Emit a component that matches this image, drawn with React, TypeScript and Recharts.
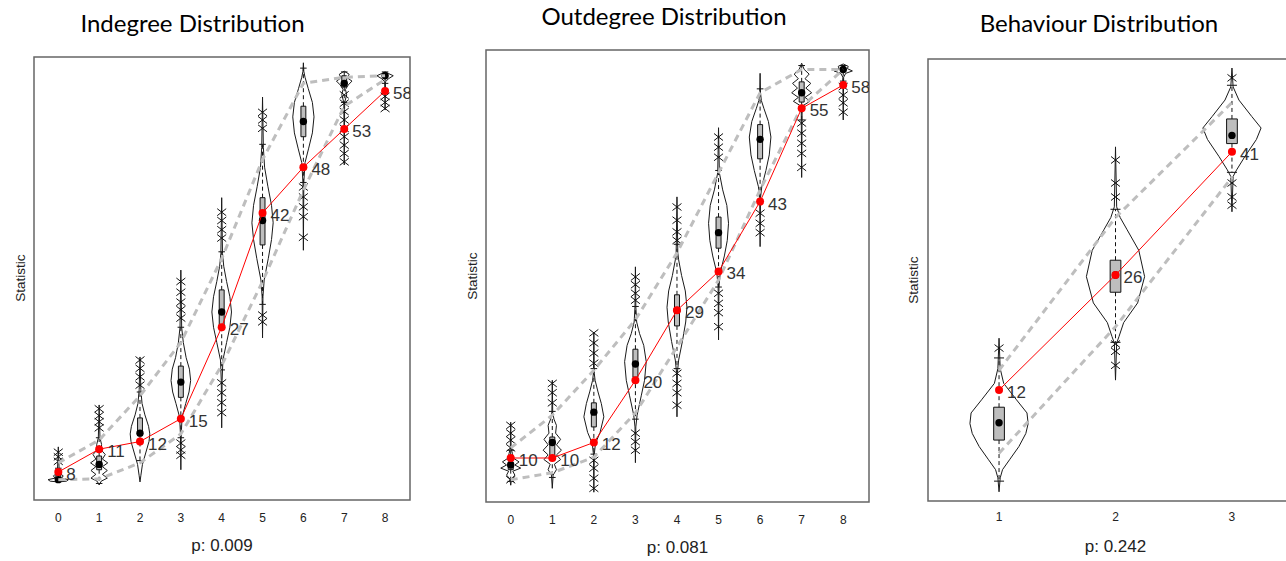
import React from 'react';
import { ComposedChart, Scatter, XAxis, YAxis, ReferenceArea, ReferenceLine } from 'recharts';

const FONT = '"Liberation Sans", Arial, Helvetica, sans-serif';
const TITLE_FONT = 'Lato, "Open Sans", sans-serif';

type Profile = [number, number][];

// ---------- Indegree distribution ----------
const indegreeCats = [0, 1, 2, 3, 4, 5, 6, 7, 8];
const indegreeObserved = [8, 11, 12, 15, 27, 42, 48, 53, 58];
const indegreeUpper = [9.2, 12.2, 18, 25, 36, 49, 59, 59.8, 60];
const indegreeLower = [7, 7.1, 9.2, 13, 22, 33, 45, 56, 59.5];
const indegreeMedian = [7, 9, 13.1, 19.8, 29, 41, 54, 59, 60];
const indegreeQ1 = [6.9, 8.3, 12.8, 17.8, 27, 37.8, 52, 58.5, 59.8];
const indegreeQ3 = [7.6, 10.1, 15.1, 21.9, 31.9, 44, 56, 60, 60.2];
const indegreeWhiskerLo = [6.8, 6.5, 9.5, 12.5, 21.4, 30, 46, 56.5, 59];
const indegreeWhiskerHi = [8.5, 12.5, 18.5, 27, 36.9, 51, 61, 60.5, 60.5];
const indegreeViolins: Profile[] = [
  [[6.7, 0], [6.8, 0.2], [7.0, 0.25], [7.2, 0.08], [7.5, 0.12], [7.8, 0.04], [8.3, 0.02], [11.3, 0]],
  [[6.3, 0], [6.8, 0.05], [7.2, 0.2], [7.7, 0.08], [8.2, 0.2], [8.7, 0.08], [9.2, 0.21], [9.7, 0.08], [10.3, 0.15], [10.9, 0.05], [11.6, 0.06], [12.5, 0.02], [16.8, 0]],
  [[6.7, 0], [7.5, 0.02], [9, 0.06], [10.5, 0.14], [12, 0.22], [13, 0.24], [14, 0.21], [15.5, 0.12], [17, 0.05], [18.8, 0.02], [23.1, 0]],
  [[8.3, 0], [13, 0.01], [15.2, 0.03], [17, 0.12], [18.5, 0.2], [20, 0.24], [21.5, 0.21], [23, 0.13], [25, 0.06], [27, 0.02], [34.5, 0]],
  [[13.8, 0], [20, 0.01], [22.7, 0.03], [25, 0.12], [27, 0.2], [29, 0.24], [31, 0.2], [33, 0.12], [35, 0.05], [36.7, 0.02], [44, 0]],
  [[25.6, 0], [31, 0.01], [33.2, 0.04], [36, 0.14], [38.5, 0.22], [40.7, 0.26], [43, 0.22], [45.5, 0.13], [48, 0.05], [50.6, 0.02], [57.2, 0]],
  [[37.1, 0], [46, 0.01], [48.6, 0.04], [50.5, 0.13], [52.5, 0.22], [54.6, 0.26], [56.5, 0.22], [58.3, 0.12], [59.8, 0.04], [60.6, 0.01], [61.7, 0]],
  [[48.3, 0], [56.5, 0.01], [57.5, 0.06], [58.2, 0.03], [58.8, 0.1], [59.3, 0.19], [59.7, 0.08], [60.2, 0.12], [60.6, 0]],
  [[55.5, 0], [59.2, 0.01], [59.6, 0.08], [60, 0.2], [60.3, 0.08], [60.5, 0]],
];
const indegreeOutliers: number[][] = [
  [9.4, 10.0, 10.6],
  [13.8, 14.6, 15.4, 16.3],
  [19.4, 20.5, 21.6, 22.7],
  [10.2, 10.9, 11.8, 28.2, 29.3, 30.3, 31.6, 33],
  [15.8, 17.1, 18.4, 19.7, 38.7, 39.8, 41, 42.1],
  [27.7, 28.6, 53.1, 54.2, 55.2],
  [38.8, 41.5, 42.8, 44.1, 45.4],
  [48.7, 49.8, 50.9, 52, 53.1, 54.2, 55.3, 56.4, 57.5],
  [55.7, 56.5, 57.3],
];

// ---------- Outdegree distribution ----------
const outdegreeCats = [0, 1, 2, 3, 4, 5, 6, 7, 8];
const outdegreeObserved = [10, 10, 12, 20, 29, 34, 43, 55, 58];
const outdegreeUpper = [11.3, 15.5, 21.3, 27.8, 36.4, 46.7, 57, 60, 60];
const outdegreeLower = [7.2, 8.1, 10.1, 15.8, 24.3, 32.9, 44.5, 55.2, 60];
const outdegreeMedian = [9.1, 12, 15.9, 22.1, 29, 39, 51, 57, 60];
const outdegreeQ1 = [8.5, 10.1, 14, 20.4, 27, 37, 48.5, 55.8, 59.7];
const outdegreeQ3 = [9.5, 12.7, 17.1, 24, 31, 41, 52.9, 58.4, 60.2];
const outdegreeWhiskerLo = [7, 7.5, 10.5, 15, 21.5, 32, 43, 53.5, 58.5];
const outdegreeWhiskerHi = [11, 16, 21.5, 29.5, 37.5, 47, 57.5, 60.5, 60.5];
const outdegreeViolins: Profile[] = [
  [[6.5, 0], [7.3, 0.02], [7.8, 0.1], [8.3, 0.05], [8.7, 0.24], [9.1, 0.1], [9.5, 0.2], [10, 0.06], [10.6, 0.04], [11.2, 0.01], [14.6, 0]],
  [[6.1, 0], [7.8, 0.02], [8.5, 0.1], [9.2, 0.05], [9.8, 0.2], [10.4, 0.1], [11, 0.22], [11.7, 0.1], [12.4, 0.2], [13.2, 0.08], [14.2, 0.1], [15, 0.04], [15.8, 0.01], [20, 0]],
  [[5.6, 0], [10.5, 0.01], [11.9, 0.04], [13.3, 0.15], [15.3, 0.24], [17, 0.18], [18.5, 0.1], [20, 0.03], [20.9, 0.01], [26.2, 0]],
  [[9.4, 0], [14, 0.01], [15.5, 0.04], [18, 0.14], [20, 0.22], [22.4, 0.26], [24.5, 0.2], [26, 0.1], [27.5, 0.03], [29.5, 0.01], [34.6, 0]],
  [[15.3, 0], [21, 0.01], [22.6, 0.04], [25, 0.13], [27.5, 0.21], [29.4, 0.24], [31.5, 0.2], [33.5, 0.11], [35.5, 0.04], [36.4, 0.02], [43.6, 0]],
  [[25.2, 0], [32, 0.01], [33.8, 0.04], [36, 0.14], [38, 0.21], [40.2, 0.24], [42.5, 0.2], [44.5, 0.1], [46.7, 0.02], [52.5, 0]],
  [[37.2, 0], [43.5, 0.01], [44.9, 0.04], [47, 0.14], [49, 0.22], [51.3, 0.26], [53.3, 0.2], [55, 0.09], [56, 0.03], [57, 0.01], [59.5, 0]],
  [[46.1, 0], [54.6, 0.01], [55.4, 0.05], [55.9, 0.2], [56.4, 0.08], [57, 0.24], [57.6, 0.1], [58.2, 0.22], [58.8, 0.08], [59.4, 0.18], [60, 0.06], [60.8, 0]],
  [[53.5, 0], [59, 0.01], [59.5, 0.06], [59.8, 0.22], [60.1, 0.1], [60.4, 0.12], [60.7, 0]],
];
const outdegreeOutliers: number[][] = [
  [7.2, 11.3, 12.3, 13.2, 14.2],
  [17.1, 18.4, 19.6],
  [6.1, 7.4, 8.7, 9.7, 22.2, 23.5, 24.8, 26.1],
  [11, 12.1, 13.2, 30.3, 31.2, 32.3, 33.3],
  [16.8, 18.4, 19.6, 20.9, 38, 39.1, 40.6, 42.3],
  [26.9, 28.7, 29.9, 31.2, 48.7, 50, 51.3],
  [39, 40.2, 41.5],
  [47.4, 49.2, 50.5, 51.8, 53.1],
  [54.5, 55.7, 56.7, 57.8],
];

// ---------- Behaviour distribution ----------
const behaviourCats = [1, 2, 3];
const behaviourObserved = [12, 26, 41];
const behaviourUpper = [14.4, 33, 47];
const behaviourLower = [4.3, 19.7, 37.9];
const behaviourMedian = [8, 26, 43];
const behaviourQ1 = [5.9, 23.9, 42];
const behaviourQ3 = [9.9, 27.8, 45];
const behaviourWhiskerLo = [0.9, 17.8, 38.5];
const behaviourWhiskerHi = [15.9, 34, 49.1];
const behaviourViolins: Profile[] = [
  [[-0.4, 0], [1.3, 0.01], [2.3, 0.03], [3.5, 0.09], [5.1, 0.17], [6.7, 0.23], [7.9, 0.25], [9.2, 0.24], [10.8, 0.15], [12.8, 0.04], [14.6, 0.01], [18.3, 0]],
  [[13.2, 0], [17.7, 0.01], [18.5, 0.03], [20.2, 0.07], [22.6, 0.19], [25.8, 0.25], [29, 0.2], [31.5, 0.1], [33, 0.04], [34.3, 0.01], [41.6, 0]],
  [[33.7, 0], [38, 0.01], [38.8, 0.04], [40.4, 0.11], [42.5, 0.21], [43.9, 0.25], [45.3, 0.17], [47.3, 0.06], [48.9, 0.01], [51.2, 0]],
];
const behaviourOutliers: number[][] = [
  [17.1],
  [15, 16.7, 17.6, 35.5, 37.2, 40],
  [34.5, 35.5, 37.2, 50],
];

const PAD = 4;
const AXIS_H = 40;

function outline(x: number, profile: Profile) {
  const right = profile.map(([v, w]) => ({ x: x + w, y: v }));
  const left = profile
    .slice()
    .reverse()
    .map(([v, w]) => ({ x: x - w, y: v }));
  return [...right, ...left];
}

const Blank = () => <g />;

const MedianDot = (p: any) => <circle cx={p.cx} cy={p.cy} r={3.7} fill="#000" />;

const Cross = (p: any) => (
  <path
    d={`M${p.cx - 4.5},${p.cy - 3.5}L${p.cx + 4.5},${p.cy + 3.5}M${p.cx - 4.5},${p.cy + 3.5}L${p.cx + 4.5},${p.cy - 3.5}`}
    stroke="#111"
    strokeWidth={1}
    fill="none"
  />
);

const ObservedDot = (p: any) => {
  const v = p.payload?.y ?? p.yValue;
  return (
    <g>
      <circle cx={p.cx} cy={p.cy} r={4} fill="#ff0000" />
      <text x={p.cx + 8} y={p.cy + 8} fontSize={17} fill="#333" fontFamily={FONT}>
        {v}
      </text>
    </g>
  );
};

type PanelSpec = {
  left: number;
  top: number;
  width: number;
  height: number;
  xDomain: [number, number];
  yDomain: [number, number];
  tickMargin: number;
  cats: number[];
  observed: number[];
  upper: number[];
  lower: number[];
  median: number[];
  q1: number[];
  q3: number[];
  wLo: number[];
  wHi: number[];
  violins: Profile[];
  outliers: number[][];
  boxHalf: number;
  capHalf: number;
};

function Panel(s: PanelSpec) {
  const pts = (vals: number[]) => s.cats.map((c, i) => ({ x: c, y: vals[i] }));
  const outlierPts = s.outliers.flatMap((vals, i) => vals.map((v) => ({ x: s.cats[i], y: v })));
  return (
    <div style={{ position: 'absolute', left: s.left - PAD, top: s.top - PAD }}>
      <ComposedChart
        width={s.width + 2 * PAD}
        height={s.height + PAD + AXIS_H}
        margin={{ top: PAD, right: PAD, bottom: 0, left: PAD }}
      >
        <XAxis
          type="number"
          dataKey="x"
          domain={s.xDomain}
          ticks={s.cats}
          interval={0}
          allowDataOverflow
          axisLine={false}
          tickLine={false}
          tickSize={0}
          tickMargin={s.tickMargin}
          height={AXIS_H}
          tick={{ fontSize: 12, fill: '#222', fontFamily: FONT }}
        />
        <YAxis type="number" dataKey="y" domain={s.yDomain} allowDataOverflow hide />
        <ReferenceArea
          x1={s.xDomain[0]}
          x2={s.xDomain[1]}
          y1={s.yDomain[0]}
          y2={s.yDomain[1]}
          fill="none"
          stroke="#666"
          strokeWidth={1.5}
        />
        {s.violins.map((prof, i) => (
          <Scatter
            key={'violin' + i}
            data={outline(s.cats[i], prof)}
            line={{ stroke: '#1a1a1a', strokeWidth: 1 }}
            shape={Blank}
            isAnimationActive={false}
          />
        ))}
        {s.cats.map((c, i) => (
          <ReferenceLine
            key={'wu' + i}
            segment={[{ x: c, y: s.q3[i] }, { x: c, y: s.wHi[i] }]}
            stroke="#111"
            strokeDasharray="4 3"
          />
        ))}
        {s.cats.map((c, i) => (
          <ReferenceLine
            key={'wl' + i}
            segment={[{ x: c, y: s.q1[i] }, { x: c, y: s.wLo[i] }]}
            stroke="#111"
            strokeDasharray="4 3"
          />
        ))}
        {s.cats.map((c, i) => (
          <ReferenceLine
            key={'cu' + i}
            segment={[{ x: c - s.capHalf, y: s.wHi[i] }, { x: c + s.capHalf, y: s.wHi[i] }]}
            stroke="#111"
          />
        ))}
        {s.cats.map((c, i) => (
          <ReferenceLine
            key={'cl' + i}
            segment={[{ x: c - s.capHalf, y: s.wLo[i] }, { x: c + s.capHalf, y: s.wLo[i] }]}
            stroke="#111"
          />
        ))}
        {s.cats.map((c, i) => (
          <ReferenceArea
            key={'box' + i}
            x1={c - s.boxHalf}
            x2={c + s.boxHalf}
            y1={s.q1[i]}
            y2={s.q3[i]}
            fill="#bebebe"
            fillOpacity={1}
            stroke="#111"
            strokeWidth={1}
          />
        ))}
        <Scatter data={pts(s.median)} shape={MedianDot} isAnimationActive={false} />
        <Scatter data={outlierPts} shape={Cross} isAnimationActive={false} />
        <Scatter
          data={pts(s.upper)}
          line={{ stroke: '#bebebe', strokeWidth: 3, strokeDasharray: '7 5' }}
          shape={Blank}
          isAnimationActive={false}
        />
        <Scatter
          data={pts(s.lower)}
          line={{ stroke: '#bebebe', strokeWidth: 3, strokeDasharray: '7 5' }}
          shape={Blank}
          isAnimationActive={false}
        />
        <Scatter
          data={pts(s.observed)}
          line={{ stroke: '#ff0000', strokeWidth: 1 }}
          shape={ObservedDot}
          isAnimationActive={false}
        />
      </ComposedChart>
    </div>
  );
}

export default function App() {
  return (
    <div
      style={{
        position: 'fixed',
        left: 0,
        top: 0,
        width: 1286,
        height: 561,
        overflow: 'hidden',
        background: '#fff',
      }}
    >
      <Panel
        left={34}
        top={57}
        width={376}
        height={443}
        xDomain={[-0.595, 8.61]}
        yDomain={[4.33, 62.46]}
        tickMargin={13}
        cats={indegreeCats}
        observed={indegreeObserved}
        upper={indegreeUpper}
        lower={indegreeLower}
        median={indegreeMedian}
        q1={indegreeQ1}
        q3={indegreeQ3}
        wLo={indegreeWhiskerLo}
        wHi={indegreeWhiskerHi}
        violins={indegreeViolins}
        outliers={indegreeOutliers}
        boxHalf={0.06}
        capHalf={0.08}
      />
      <Panel
        left={486}
        top={50}
        width={383}
        height={452}
        xDomain={[-0.595, 8.62]}
        yDomain={[4.34, 62.5]}
        tickMargin={13}
        cats={outdegreeCats}
        observed={outdegreeObserved}
        upper={outdegreeUpper}
        lower={outdegreeLower}
        median={outdegreeMedian}
        q1={outdegreeQ1}
        q3={outdegreeQ3}
        wLo={outdegreeWhiskerLo}
        wHi={outdegreeWhiskerHi}
        violins={outdegreeViolins}
        outliers={outdegreeOutliers}
        boxHalf={0.06}
        capHalf={0.08}
      />
      <Panel
        left={928}
        top={59}
        width={375}
        height={442}
        xDomain={[0.39, 3.61]}
        yDomain={[-1.52, 52.3]}
        tickMargin={11}
        cats={behaviourCats}
        observed={behaviourObserved}
        upper={behaviourUpper}
        lower={behaviourLower}
        median={behaviourMedian}
        q1={behaviourQ1}
        q3={behaviourQ3}
        wLo={behaviourWhiskerLo}
        wHi={behaviourWhiskerHi}
        violins={behaviourViolins}
        outliers={behaviourOutliers}
        boxHalf={0.046}
        capHalf={0.043}
      />
      <svg
        width={1286}
        height={561}
        style={{ position: 'absolute', left: 0, top: 0, pointerEvents: 'none' }}
      >
        <g fontFamily={TITLE_FONT} fontSize={24} fill="#000" textAnchor="middle">
          <text x={192.5} y={32}>Indegree Distribution</text>
          <text x={664} y={25}>Outdegree Distribution</text>
          <text x={1099} y={32}>Behaviour Distribution</text>
        </g>
        <g fontFamily={FONT} fontSize={13.5} fill="#222" textAnchor="middle">
          <text x={25} y={278} transform="rotate(-90 25 278)">Statistic</text>
          <text x={477} y={276} transform="rotate(-90 477 276)">Statistic</text>
          <text x={918} y={280} transform="rotate(-90 918 280)">Statistic</text>
        </g>
        <g fontFamily={FONT} fontSize={17} fill="#222" textAnchor="middle">
          <text x={222} y={550.5}>p: 0.009</text>
          <text x={677.5} y={553}>p: 0.081</text>
          <text x={1115.5} y={551.5}>p: 0.242</text>
        </g>
      </svg>
    </div>
  );
}
